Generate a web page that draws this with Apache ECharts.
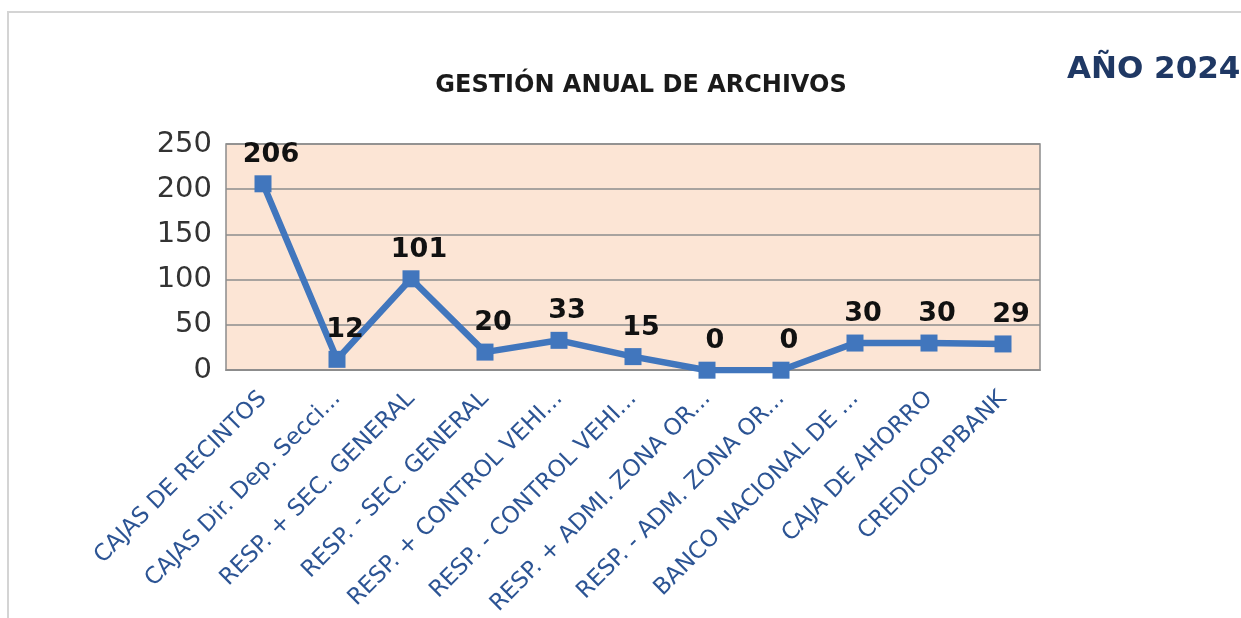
<!DOCTYPE html>
<html>
<head>
<meta charset="utf-8">
<title>Gestión anual de archivos</title>
<script src="https://cdn.jsdelivr.net/npm/echarts@6/dist/echarts.min.js"></script>
<style>
  html, body { margin: 0; padding: 0; background: #fff; }
  #chart { width: 1241px; height: 618px; }
</style>
</head>
<body>
<div id="chart"></div>
<script>
'use strict';

// categories as shown (Excel truncates the long ones)
var categories = [
    'CAJAS DE RECINTOS',
    'CAJAS Dir. Dep. Secci...',
    'RESP. + SEC. GENERAL',
    'RESP. - SEC. GENERAL',
    'RESP. + CONTROL VEHI...',
    'RESP. - CONTROL VEHI...',
    'RESP. + ADMI. ZONA OR...',
    'RESP. - ADM. ZONA OR...',
    'BANCO NACIONAL DE ...',
    'CAJA DE AHORRO',
    'CREDICORPBANK'
];

var values = [206, 12, 101, 20, 33, 15, 0, 0, 30, 30, 29];

var yTicks = [0, 50, 100, 150, 200, 250];

var font = 'DejaVu Sans';
var lineColor = '#4176bd';

var chart = echarts.init(document.getElementById('chart'));

var options = {
    backgroundColor: '#ffffff',
    animation: false,
    title: [
        {
            text: 'GESTIÓN ANUAL DE ARCHIVOS',
            left: 636,
            top: 69,
            textAlign: 'center',
            textStyle: { fontFamily: font, fontSize: 24, fontWeight: 'bold', color: '#1a1a1a' }
        },
        {
            text: 'AÑO 2024',
            left: 1062,
            top: 49,
            textStyle: { fontFamily: font, fontSize: 31, fontWeight: 'bold', color: '#1f3864' }
        }
    ],
    graphic: [
        {
            type: 'polyline',
            shape: { points: [[8, 618], [8, 12], [1241, 12]] },
            style: { fill: null, stroke: '#d4d4d4', lineWidth: 2 },
            silent: true
        }
    ],
    grid: {
        left: 226,
        right: 201,
        top: 144,
        bottom: 246,
        show: true,
        backgroundColor: '#fce5d5',
        borderColor: '#8c8c8c',
        borderWidth: 1.5
    },
    xAxis: {
        type: 'category',
        data: categories,
        boundaryGap: true,
        axisLine: { show: true, lineStyle: { color: '#8c8c8c', width: 1.5 } },
        axisTick: { show: false },
        axisLabel: {
            interval: 0,
            rotate: 45,
            margin: 25,
            fontFamily: font,
            fontSize: 23,
            color: '#2c5494'
        }
    },
    yAxis: {
        type: 'value',
        min: yTicks[0],
        max: yTicks[yTicks.length - 1],
        interval: 50,
        axisLine: { show: false },
        axisTick: { show: false },
        splitLine: { show: true, lineStyle: { color: '#8c8c8c', width: 1.5 } },
        axisLabel: {
            margin: 14,
            fontFamily: font,
            fontSize: 29,
            color: '#333333'
        }
    },
    series: [
        {
            type: 'line',
            data: values,
            symbol: 'rect',
            symbolSize: 17,
            lineStyle: { color: lineColor, width: 6.5 },
            itemStyle: { color: lineColor },
            label: {
                show: true,
                position: 'top',
                distance: 10,
                offset: [8, 3],
                fontFamily: font,
                fontSize: 27,
                fontWeight: 'bold',
                color: '#111111'
            }
        }
    ]
};

chart.setOption(options);
</script>
</body>
</html>
